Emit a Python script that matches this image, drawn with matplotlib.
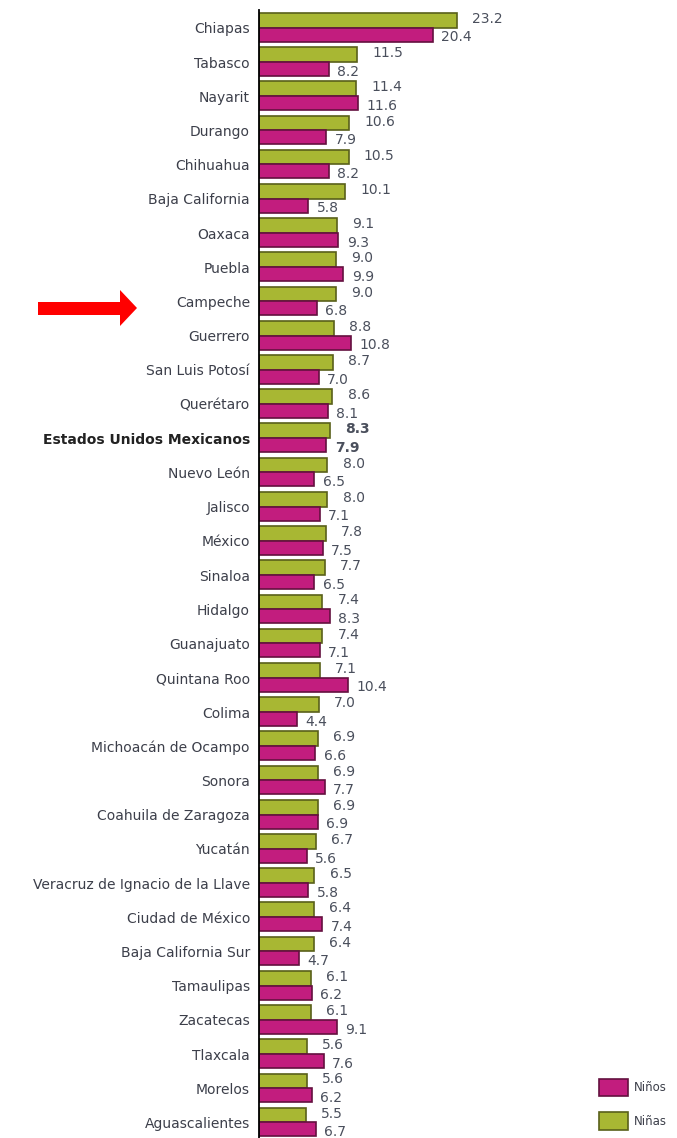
import matplotlib.pyplot as plt
import matplotlib.patches as mpatches
import numpy as np

estados = [
    "Chiapas", "Tabasco", "Nayarit", "Durango", "Chihuahua", "Baja California",
    "Oaxaca", "Puebla", "Campeche", "Guerrero", "San Luis Potosí", "Querétaro",
    "Estados Unidos Mexicanos", "Nuevo León", "Jalisco", "México", "Sinaloa",
    "Hidalgo", "Guanajuato", "Quintana Roo", "Colima", "Michoacán de Ocampo",
    "Sonora", "Coahuila de Zaragoza", "Yucatán", "Veracruz de Ignacio de la Llave",
    "Ciudad de México", "Baja California Sur", "Tamaulipas", "Zacatecas",
    "Tlaxcala", "Morelos", "Aguascalientes",
]
ninas = [23.2, 11.5, 11.4, 10.6, 10.5, 10.1, 9.1, 9.0, 9.0, 8.8, 8.7, 8.6,
         8.3, 8.0, 8.0, 7.8, 7.7, 7.4, 7.4, 7.1, 7.0, 6.9, 6.9, 6.9, 6.7,
         6.5, 6.4, 6.4, 6.1, 6.1, 5.6, 5.6, 5.5]
ninos = [20.4, 8.2, 11.6, 7.9, 8.2, 5.8, 9.3, 9.9, 6.8, 10.8, 7.0, 8.1,
         7.9, 6.5, 7.1, 7.5, 6.5, 8.3, 7.1, 10.4, 4.4, 6.6, 7.7, 6.9, 5.6,
         5.8, 7.4, 4.7, 6.2, 9.1, 7.6, 6.2, 6.7]
nacional = "Estados Unidos Mexicanos"

VERDE = "#a8b733"
VERDE_BORDE = "#59601a"
ROSA = "#c21d7e"
ROSA_BORDE = "#64103f"
TXT = "#3c3f4a"
NUM = "#4a4f5c"

W, H = 677, 1138
fig = plt.figure(figsize=(W / 100, H / 100), dpi=100)
ax = fig.add_axes([259 / W, 0, 1 - 259 / W, 1 - 10 / H])

y = np.arange(len(estados))
ax.barh(y - 0.22, ninas, height=0.43, color=VERDE, edgecolor=VERDE_BORDE, linewidth=1.2)
ax.barh(y + 0.2, ninos, height=0.41, color=ROSA, edgecolor=ROSA_BORDE, linewidth=1.2)

ax.set_xlim(0, 49)
ax.set_ylim(32.45, -0.52)
for s in ["top", "right", "bottom"]:
    ax.spines[s].set_visible(False)
ax.spines["left"].set_linewidth(1.3)
ax.set_xticks([])
ax.set_yticks(y)
ax.set_yticklabels(estados, fontsize=10, color=TXT)
ax.tick_params(axis="y", length=0, pad=6.5)
for lbl in ax.get_yticklabels():
    if lbl.get_text() == nacional:
        lbl.set_fontweight("bold")
        lbl.set_color("#222222")

for i, (a, b) in enumerate(zip(ninas, ninos)):
    bold = estados[i] == nacional
    w = "bold" if bold else "normal"
    ax.annotate(f"{a:.1f}", (a, i - 0.22), xytext=(11, 1), textcoords="offset points",
                va="center", ha="left", fontsize=10, color=NUM, fontweight=w)
    ax.annotate(f"{b:.1f}", (b, i + 0.2), xytext=(6, -2), textcoords="offset points",
                va="center", ha="left", fontsize=10, color=NUM, fontweight=w)

# flecha roja señalando Campeche
flecha = [(38, 302), (120, 302), (120, 290), (137, 308), (120, 326), (120, 315), (38, 315)]
fig.add_artist(mpatches.Polygon([(px / W, 1 - py / H) for px, py in flecha],
                                closed=True, transform=fig.transFigure,
                                facecolor="#ff0000", edgecolor="none"))

h_ninos = mpatches.Patch(facecolor=ROSA, edgecolor=ROSA_BORDE, linewidth=1.2)
h_ninas = mpatches.Patch(facecolor=VERDE, edgecolor=VERDE_BORDE, linewidth=1.2)
fig.legend([h_ninos, h_ninas], ["Niños", "Niñas"], loc="lower left",
           bbox_to_anchor=(588 / W, -0.002), frameon=False, fontsize=8.5,
           handlelength=2.5, handleheight=1.9, labelspacing=1.35,
           handletextpad=0.5, labelcolor=TXT)

fig.savefig("out.png", dpi=100)
